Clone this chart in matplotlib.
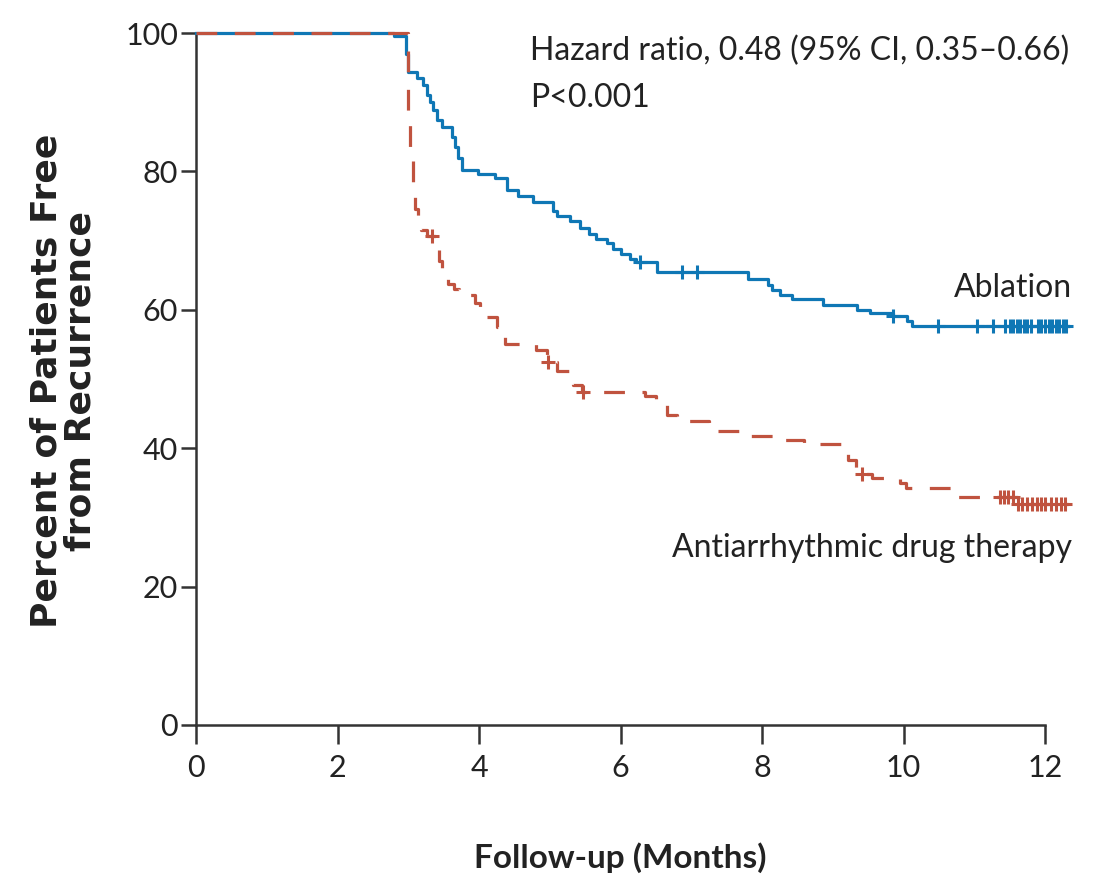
import numpy as np
import matplotlib
matplotlib.use("Agg")
import matplotlib.pyplot as plt

plt.rcParams["font.family"] = ["Lato", "DejaVu Sans"]

# Kaplan-Meier steps (months, percent free)
abl_t = [0, 2.80, 2.97, 3.00, 3.12, 3.21, 3.27, 3.31, 3.35, 3.40, 3.47, 3.62, 3.66,
         3.70, 3.76, 3.99, 4.23, 4.40, 4.55, 4.76, 5.05, 5.10, 5.29, 5.43, 5.55,
         5.65, 5.81, 5.89, 6.00, 6.13, 6.22, 6.51, 7.80, 8.08, 8.14, 8.25, 8.42,
         8.86, 9.34, 9.52, 9.85, 10.05, 10.12, 12.33]
abl_s = [100, 99.6, 97.0, 94.4, 93.5, 92.5, 91.0, 90.0, 88.9, 87.5, 86.4, 85.0, 83.5,
         82.0, 80.2, 79.6, 79.0, 77.3, 76.5, 75.6, 74.3, 73.5, 72.8, 71.8, 71.0,
         70.3, 69.6, 68.8, 68.0, 67.4, 66.9, 65.4, 64.5, 63.6, 62.8, 62.2, 61.5,
         60.7, 60.0, 59.6, 59.1, 58.4, 57.7, 57.7]
abl_cens = [6.27, 6.87, 7.08, 9.85, 10.49, 11.04, 11.27, 11.43, 11.50, 11.55, 11.60,
            11.65, 11.70, 11.75, 11.80, 11.90, 11.95, 12.00, 12.05, 12.10, 12.15,
            12.20, 12.25, 12.30]

drug_t = [0, 3.00, 3.03, 3.06, 3.10, 3.14, 3.18, 3.27, 3.40, 3.43, 3.48, 3.56, 3.65,
          3.72, 3.94, 4.02, 4.08, 4.25, 4.31, 4.37, 4.80, 4.96, 5.10, 5.33, 5.45,
          6.35, 6.50, 6.65, 6.80, 7.25, 7.32, 7.75, 7.82, 8.20, 8.60, 9.15, 9.22,
          9.33, 9.40, 9.55, 9.95, 10.03, 10.75, 11.62, 12.33]
drug_s = [100, 88.0, 82.0, 77.5, 74.5, 73.0, 71.5, 70.6, 69.5, 67.0, 65.0, 63.8, 63.0,
          62.2, 61.0, 59.8, 58.9, 57.5, 56.5, 55.1, 54.2, 52.5, 51.2, 49.1, 48.1,
          47.6, 46.5, 44.8, 44.0, 43.2, 42.5, 42.0, 41.7, 41.2, 40.6, 39.5, 38.3,
          37.0, 36.2, 35.7, 35.0, 34.2, 32.9, 32.0, 32.0]
drug_cens = [3.34, 4.98, 5.47, 9.41, 11.36, 11.42, 11.48, 11.55, 11.62, 11.68, 11.75,
             11.82, 11.88, 11.95, 12.00, 12.08, 12.15, 12.22, 12.28]

x_ticks = [0, 2, 4, 6, 8, 10, 12]
y_ticks = [0, 20, 40, 60, 80, 100]

blue = "#0f77b5"
red = "#c0533f"
ink = "#222222"


def step_value(t, s, x):
    idx = np.searchsorted(t, x, side="right") - 1
    return np.asarray(s)[idx]


fig = plt.figure(figsize=(11.02, 8.90), dpi=100)
ax = fig.add_axes([0.1779, 0.1854, 0.7704, 0.7775])

ax.step(abl_t, abl_s, where="post", color=blue, lw=2.3, clip_on=False, zorder=3)
ax.plot(abl_cens, step_value(abl_t, abl_s, abl_cens), ls="none", marker="+",
        ms=10, mew=2.2, color=blue, clip_on=False, zorder=3)

ax.step(drug_t, drug_s, where="post", color=red, lw=2.3, ls=(0, (6.5, 5.5)),
        clip_on=False, zorder=4)
ax.plot(drug_cens, step_value(drug_t, drug_s, drug_cens), ls="none", marker="+",
        ms=10, mew=2.2, color=red, clip_on=False, zorder=4)

ax.set_xlim(0, 12)
ax.set_ylim(0, 100)
ax.set_xticks(x_ticks)
ax.set_yticks(y_ticks)
for side in ["top", "right"]:
    ax.spines[side].set_visible(False)
for side in ["left", "bottom"]:
    ax.spines[side].set_linewidth(1.8)
    ax.spines[side].set_color("#333333")
ax.tick_params(axis="x", direction="out", length=14, width=1.8, color="#333333",
               pad=7, labelsize=22, labelcolor=ink)
ax.tick_params(axis="y", direction="out", length=11, width=1.8, color="#333333",
               pad=2, labelsize=22, labelcolor=ink)

fig.text(0.481, 0.960, "Hazard ratio, 0.48 (95% CI, 0.35\u20130.66)\nP<0.001",
         ha="left", va="top", fontsize=23, color=ink, linespacing=1.7)
fig.text(0.9728, 0.6663, "Ablation", ha="right", va="baseline", fontsize=23, color=ink)
fig.text(0.9728, 0.374, "Antiarrhythmic drug therapy", ha="right", va="baseline",
         fontsize=23, color=ink)

fig.text(0.5626, 0.036, "Follow-up (Months)", ha="center", va="center",
         fontsize=24, fontweight="bold", color=ink)
fig.text(0.058, 0.572, "Percent of Patients Free\nfrom Recurrence", ha="center",
         va="center", rotation=90, fontsize=26, fontweight="bold", color=ink,
         linespacing=1.0, family=["DejaVu Sans"])

fig.savefig("out.png", dpi=100)
